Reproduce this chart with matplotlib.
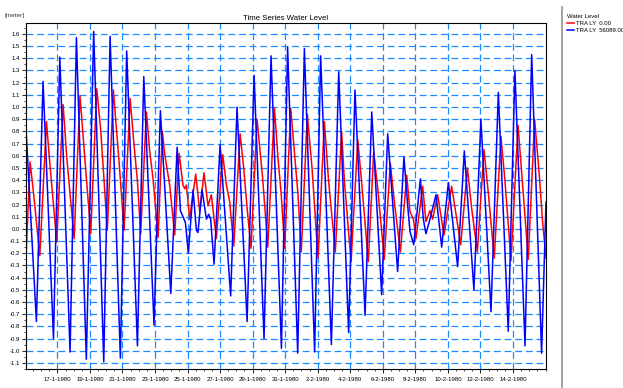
import datetime as dt

import matplotlib
matplotlib.use("Agg")
import matplotlib.dates as mdates
import matplotlib.pyplot as plt
from matplotlib.lines import Line2D
from matplotlib.ticker import FormatStrFormatter, MultipleLocator
import numpy as np

plt.rcParams["font.family"] = ["Liberation Sans", "DejaVu Sans"]
plt.rcParams["axes.unicode_minus"] = False

# time in days counted from 1-1-1980 (day 1 = 1 Jan, day 32 = 1 Feb), level in meter
red_t = [15.06, 15.32, 15.53, 15.92, 16.33, 16.49, 16.96, 17.35, 17.58, 18.03,
         18.39, 18.64, 19.05, 19.42, 19.67, 20.07, 20.44, 20.79, 21.10, 21.47,
         21.71, 21.92, 22.12, 22.47, 22.68, 22.88, 23.19, 23.45, 23.60, 23.90,
         24.21, 24.48, 24.72, 24.83, 24.93, 25.13, 25.50, 25.75, 26.01, 26.26,
         26.46, 26.77, 27.16, 27.39, 27.59, 27.84, 28.23, 28.45, 28.66, 28.90,
         29.27, 29.62, 29.93, 30.34, 30.56, 30.76, 30.97, 31.34, 31.58, 31.79,
         31.99, 32.36, 32.65, 33.02, 33.41, 33.67, 34.08, 34.47, 34.64, 35.05,
         35.46, 35.66, 35.87, 36.11, 36.44, 36.69, 37.09, 37.46, 37.71, 38.08,
         38.47, 38.67, 38.88, 39.04, 39.45, 39.65, 39.90, 40.06, 40.37, 40.76,
         41.23, 41.79, 42.20, 42.46, 42.81, 43.22, 43.48, 43.85, 44.26, 44.51,
         44.88, 45.31, 45.53, 45.94, 46.33, 46.62, 46.82, 47.03]
red_v = [-0.27, 0.55, 0.30, -0.22, 0.88, 0.61, -0.11, 1.02, 0.58, -0.08,
         1.09, 0.66, -0.04, 1.15, 0.80, -0.01, 1.14, 0.55, -0.01, 1.07,
         0.69, 0.39, -0.04, 0.96, 0.63, 0.41, -0.07, 0.80, 0.61, 0.36,
         -0.05, 0.62, 0.36, 0.33, 0.36, 0.08, 0.45, 0.14, 0.46, 0.19,
         0.28, -0.08, 0.61, 0.36, 0.22, -0.14, 0.78, 0.50, 0.17, -0.16,
         0.90, 0.41, -0.15, 0.99, 0.58, 0.28, -0.16, 0.99, 0.61, 0.28,
         -0.19, 0.94, 0.50, -0.24, 0.88, 0.39, -0.19, 0.80, 0.39, -0.27,
         0.73, 0.44, 0.11, -0.27, 0.63, 0.33, -0.25, 0.54, 0.22, -0.19,
         0.44, 0.14, 0.08, -0.08, 0.35, 0.06, 0.15, 0.08, 0.28, -0.05,
         0.35, -0.13, 0.50, 0.17, -0.19, 0.65, 0.30, -0.24, 0.76, 0.39,
         -0.26, 0.85, 0.47, -0.25, 0.90, 0.44, 0.06, -0.24]

blue_t = [15.06, 15.71, 16.12, 16.76, 17.15, 17.78, 18.17, 18.78, 19.23, 19.85,
          20.24, 20.87, 21.26, 21.92, 22.31, 22.94, 23.33, 23.97, 24.36, 24.56,
          24.72, 24.87, 25.05, 25.34, 25.54, 25.64, 25.89, 26.16, 26.30, 26.42,
          26.63, 27.00, 27.65, 28.04, 28.66, 29.09, 29.70, 30.13, 30.77, 31.15,
          31.77, 32.18, 32.81, 33.18, 33.84, 34.29, 34.90, 35.29, 35.91, 36.32,
          36.93, 37.30, 37.91, 38.30, 38.53, 38.67, 38.90, 39.31, 39.49, 39.65,
          39.86, 40.27, 40.62, 41.03, 41.60, 42.01, 42.60, 43.03, 43.65, 44.10,
          44.71, 45.12, 45.74, 46.15, 46.76, 47.03]
blue_v = [0.85, -0.76, 1.21, -0.90, 1.41, -1.01, 1.57, -1.07, 1.62, -1.09,
          1.58, -1.06, 1.46, -0.96, 1.25, -0.79, 0.97, -0.53, 0.67, 0.15,
          0.10, 0.05, -0.20, 0.32, -0.01, -0.03, 0.32, 0.08, 0.12, 0.08,
          -0.29, 0.69, -0.55, 1.00, -0.76, 1.26, -0.90, 1.42, -0.98, 1.49,
          -1.02, 1.48, -1.01, 1.42, -0.95, 1.29, -0.85, 1.14, -0.71, 0.96,
          -0.54, 0.78, -0.35, 0.59, 0.19, -0.02, -0.13, 0.41, 0.08, -0.04,
          0.06, 0.28, -0.15, 0.38, -0.31, 0.64, -0.50, 0.90, -0.68, 1.12,
          -0.84, 1.30, -0.96, 1.43, -1.02, 0.22]

series_labels = ["TRA LY  0.00", "TRA LY  56089.00"]

day0 = mdates.date2num(dt.datetime(1979, 12, 31))


def to_dates(days):
    return day0 + np.array(days)


fig = plt.figure(figsize=(6.23, 3.88), dpi=100)
ax = fig.add_axes([0.0417, 0.049, 0.8347, 0.8918])

ax.plot(to_dates(red_t), red_v, color="#ff0000", lw=1.1, label=series_labels[0])
ax.plot(to_dates(blue_t), blue_v, color="#0000ff", lw=1.1, label=series_labels[1])

ax.set_xlim(to_dates([15.07])[0], to_dates([47.03])[0])
ax.set_ylim(-1.15, 1.69)

# every second day gets a label, half days get small ticks
major_days = mdates.date2num(np.arange(np.datetime64("1980-01-17"),
                                       np.datetime64("1980-02-16"),
                                       np.timedelta64(2, "D")).astype(dt.datetime))
ax.set_xticks(major_days)
ax.xaxis.set_minor_locator(mdates.HourLocator(byhour=[0, 12]))
ax.xaxis.set_major_formatter(plt.FuncFormatter(
    lambda x, pos: "{0.day}-{0.month}-{0.year}".format(mdates.num2date(x))))

ax.yaxis.set_major_locator(MultipleLocator(0.1))
ax.yaxis.set_minor_locator(MultipleLocator(0.05))
ax.yaxis.set_major_formatter(FormatStrFormatter("%.1f"))

ax.tick_params(which="major", length=3, width=0.6, labelsize=4.3, pad=1.5)
ax.tick_params(which="minor", length=1.6, width=0.5)
ax.tick_params(axis="x", pad=2.5)

ax.grid(True, which="major", color="#1a8cff", lw=0.9, ls=(0, (5.5, 3)))
ax.set_axisbelow(True)
for s in ax.spines.values():
    s.set_linewidth(0.8)

fig.text(0.5 * (0.0417 + 0.8764), 0.952, "Time Series Water Level",
         ha="center", va="center", fontsize=5.6)
fig.text(0.008, 0.960, "[meter]", ha="left", va="center", fontsize=4.6, color="#333333")

# legend panel on the right, split off by a grey rule
fig.add_artist(Line2D([0.902, 0.902], [0.0, 0.982], color="#888888", lw=1.1))
leg = fig.legend(loc="upper left", bbox_to_anchor=(0.906, 0.972), frameon=False,
                 title="Water Level", fontsize=4.3, title_fontsize=4.3,
                 alignment="left", handlelength=1.1, handletextpad=0.3,
                 labelspacing=0.35, borderpad=0.0)

fig.savefig("out.png", dpi=100)
